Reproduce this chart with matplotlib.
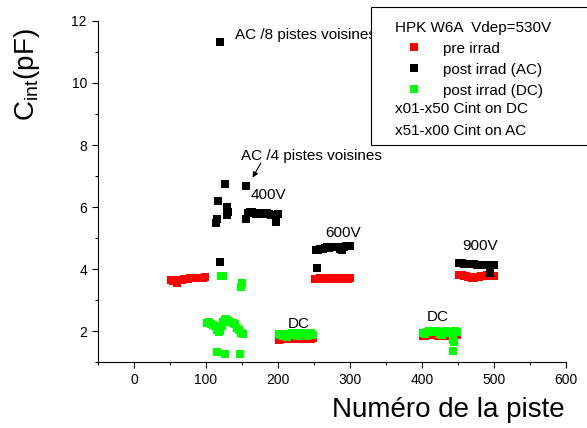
import matplotlib
matplotlib.use("Agg")
import matplotlib.pyplot as plt
from matplotlib.patches import Rectangle
from matplotlib.lines import Line2D
from matplotlib.ticker import MultipleLocator

plt.rcParams['font.family'] = ['Liberation Sans', 'DejaVu Sans']

# --- pre irrad (red) ---
pre_a_x = [51, 54, 57, 60, 63, 66, 69, 72, 75, 78, 81, 84, 87, 90, 93, 96, 99]
pre_a_y = [3.66, 3.63, 3.60, 3.56, 3.64, 3.66, 3.67, 3.68, 3.69, 3.70, 3.70, 3.71, 3.71, 3.72, 3.72, 3.72, 3.73]
pre_b_x = [201, 204, 207, 210, 213, 216, 219, 222, 225, 228, 231, 234, 237, 240, 243, 246, 249]
pre_b_y = [1.72, 1.74, 1.76, 1.77, 1.77, 1.76, 1.75, 1.75, 1.76, 1.77, 1.76, 1.75, 1.74, 1.73, 1.74, 1.76, 1.77]
pre_c_x = [252, 255, 258, 261, 264, 267, 270, 273, 276, 279, 282, 285, 288, 291, 294, 297, 300]
pre_c_y = [3.69, 3.69, 3.70, 3.69, 3.68, 3.69, 3.70, 3.70, 3.69, 3.69, 3.70, 3.69, 3.69, 3.70, 3.69, 3.69, 3.70]
pre_d_x = [401, 404, 407, 410, 413, 416, 419, 422, 425, 428, 431, 434, 437, 440, 443, 446, 449]
pre_d_y = [1.84, 1.85, 1.86, 1.86, 1.87, 1.87, 1.86, 1.85, 1.85, 1.84, 1.84, 1.85, 1.86, 1.86, 1.85, 1.86, 1.87]
pre_e_x = [452, 455, 458, 461, 464, 467, 470, 473, 476, 479, 482, 485, 488, 491, 494, 497, 500]
pre_e_y = [3.82, 3.80, 3.79, 3.77, 3.75, 3.73, 3.72, 3.72, 3.73, 3.75, 3.77, 3.78, 3.79, 3.80, 3.80, 3.79, 3.78]

# --- post irrad AC (black) ---
ac_a_x = [120, 155, 126, 117, 129, 130, 129, 115, 114, 120]
ac_a_y = [11.32, 6.68, 6.74, 6.19, 6.00, 5.85, 5.75, 5.62, 5.50, 4.24]
ac_b_x = [155, 158, 161, 164, 167, 170, 173, 176, 179, 182, 185, 188, 191, 194, 197, 200]
ac_b_y = [5.62, 5.82, 5.85, 5.83, 5.80, 5.78, 5.82, 5.80, 5.78, 5.76, 5.80, 5.78, 5.75, 5.74, 5.52, 5.78]
ac_c_x = [253, 256, 259, 262, 265, 268, 271, 274, 277, 280, 283, 286, 289, 292, 295, 298, 300, 254]
ac_c_y = [4.62, 4.63, 4.64, 4.66, 4.68, 4.70, 4.69, 4.70, 4.71, 4.72, 4.71, 4.66, 4.63, 4.70, 4.73, 4.74, 4.74, 4.02]
ac_d_x = [452, 455, 458, 461, 464, 467, 470, 473, 476, 479, 482, 485, 488, 491, 494, 497, 500, 495]
ac_d_y = [4.18, 4.18, 4.17, 4.17, 4.16, 4.16, 4.15, 4.15, 4.14, 4.14, 4.13, 4.13, 4.12, 4.12, 4.10, 4.12, 4.14, 3.87]

# --- post irrad DC (green) ---
dc_a_x = [101, 104, 107, 110, 113, 115, 118, 120, 122, 124, 126, 128, 131, 134, 137, 140, 143, 146, 149, 151,
          121, 123, 150, 149, 115, 126, 147]
dc_a_y = [2.25, 2.28, 2.22, 2.20, 2.15, 2.05, 1.98, 2.00, 2.15, 2.30, 2.35, 2.38, 2.33, 2.30, 2.25, 2.22, 2.10, 2.05, 1.95, 1.90,
          3.76, 3.78, 3.55, 3.42, 1.32, 1.26, 1.27]
dc_b_x = [201, 204, 207, 210, 213, 216, 219, 222, 225, 228, 231, 234, 237, 240, 243, 246, 249]
dc_b_y = [1.92, 1.88, 1.84, 1.91, 1.81, 1.86, 1.93, 1.94, 1.88, 1.83, 1.92, 1.94, 1.92, 1.85, 1.91, 1.94, 1.87]
dc_c_x = [401, 404, 407, 410, 413, 416, 419, 422, 425, 428, 431, 434, 437, 440, 443, 446, 449, 443, 445, 443]
dc_c_y = [1.95, 1.92, 1.98, 1.99, 1.96, 1.98, 1.99, 1.96, 1.90, 1.86, 1.96, 1.99, 1.95, 1.98, 1.92, 1.99, 1.96, 1.72, 1.64, 1.35]

fig = plt.figure(figsize=(5.87, 4.28), dpi=100)
ax = fig.add_axes([0.167, 0.154, 0.797, 0.797])

ms = 5.5
for xs, ys in [(pre_a_x, pre_a_y), (pre_b_x, pre_b_y), (pre_c_x, pre_c_y), (pre_d_x, pre_d_y), (pre_e_x, pre_e_y)]:
    ax.plot(xs, ys, 's', color='#ff0000', ms=ms, mew=0)
for xs, ys in [(ac_a_x, ac_a_y), (ac_b_x, ac_b_y), (ac_c_x, ac_c_y), (ac_d_x, ac_d_y)]:
    ax.plot(xs, ys, 's', color='black', ms=ms, mew=0)
for xs, ys in [(dc_a_x, dc_a_y), (dc_b_x, dc_b_y), (dc_c_x, dc_c_y)]:
    ax.plot(xs, ys, 's', color='#00ff00', ms=ms, mew=0)

ax.set_xlim(-50, 600)
ax.set_ylim(1, 12)
ax.xaxis.set_minor_locator(MultipleLocator(50))
ax.yaxis.set_minor_locator(MultipleLocator(1))
ax.set_xticks([0, 100, 200, 300, 400, 500, 600])
ax.set_yticks([2, 4, 6, 8, 10, 12])
ax.tick_params(which='major', length=4.5, width=0.8, labelsize=10)
ax.tick_params(which='minor', length=2.5, width=0.8)
ax.spines['top'].set_visible(False)
ax.spines['right'].set_visible(False)

ax.set_xlabel('Numéro de la piste', fontsize=20, va='center')
ax.xaxis.set_label_coords(0.748, -0.141)
ax.set_ylabel('C$_\\mathregular{int}$(pF)', fontsize=20, va='center')
ax.yaxis.set_label_coords(-0.152, 0.842)

fs = 11
ax.text(140.3, 11.42, 'AC /8 pistes voisines', fontsize=fs, va='baseline')
ax.text(148.5, 7.52, 'AC /4 pistes voisines', fontsize=fs, va='baseline')
ax.annotate('', xy=(163, 6.87), xytext=(178, 7.5),
            arrowprops=dict(arrowstyle='-|>', color='black', lw=0.8, mutation_scale=8))
ax.text(162.5, 6.26, '400V', fontsize=fs, va='baseline')
ax.text(265, 5.03, '600V', fontsize=fs, va='baseline')
ax.text(455.5, 4.61, '900V', fontsize=fs, va='baseline')
ax.text(214, 2.11, 'DC', fontsize=fs, va='baseline')
ax.text(407, 2.32, 'DC', fontsize=fs, va='baseline')

# hand-made legend box
fig.add_artist(Rectangle((0.632, 0.661), 0.4, 0.323, transform=fig.transFigure,
                         facecolor='white', edgecolor='black', lw=0.8, zorder=5))
fig.text(0.673, 0.925, 'HPK W6A  Vdep=530V', fontsize=fs, va='baseline', zorder=6)
for yy, col, lab in [(0.890, '#ff0000', 'pre irrad'),
                     (0.841, 'black', 'post irrad (AC)'),
                     (0.792, '#00ff00', 'post irrad (DC)')]:
    fig.add_artist(Line2D([0.705], [yy], transform=fig.transFigure, marker='s',
                          color=col, ms=6, mew=0, zorder=6))
    fig.text(0.755, yy - 0.013, lab, fontsize=fs, va='baseline', zorder=6)
fig.text(0.673, 0.736, 'x01-x50 Cint on DC', fontsize=fs, va='baseline', zorder=6)
fig.text(0.673, 0.685, 'x51-x00 Cint on AC', fontsize=fs, va='baseline', zorder=6)

fig.savefig('out.png', dpi=100)
